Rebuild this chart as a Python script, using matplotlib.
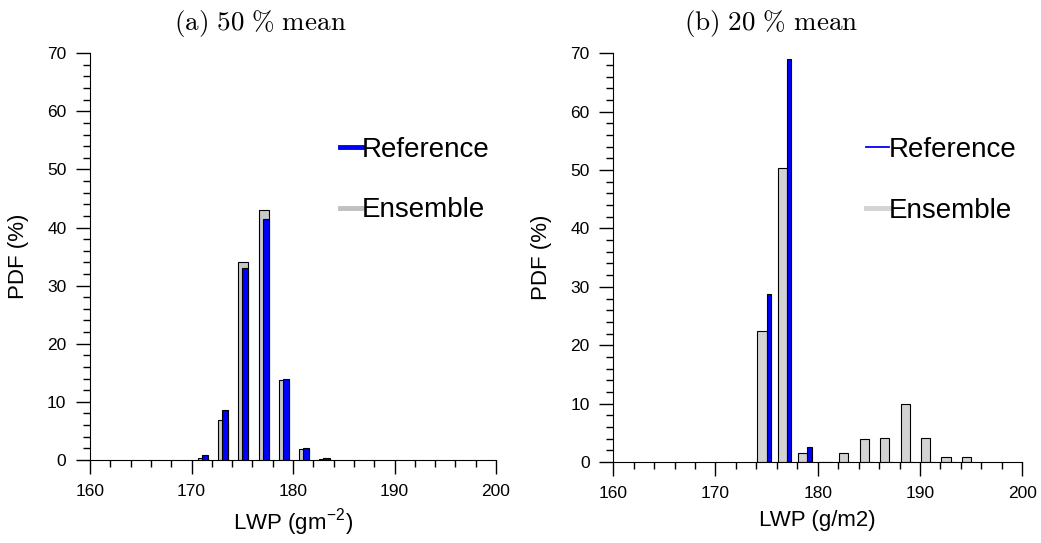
import numpy as np
import matplotlib.pyplot as plt
from matplotlib.lines import Line2D
from matplotlib.ticker import MultipleLocator

plt.rcParams['font.family'] = ['Liberation Sans', 'DejaVu Sans']
plt.rcParams['mathtext.fontset'] = 'cm'

# bin centres (g/m2) and PDF values (%)
bins_a = [171, 173, 175, 177, 179, 181, 183]
ens_a = [0.3, 6.8, 34.1, 43.1, 13.8, 1.8, 0.15]
ref_a = [0.8, 8.6, 33.1, 41.4, 14.0, 2.0, 0.25]

bins_b = [175, 177, 179, 181, 183, 185, 187, 189, 191, 193, 195]
ens_b = [22.4, 50.3, 1.5, 0.1, 1.6, 3.9, 4.2, 9.9, 4.1, 0.9, 0.85]
ref_b = [28.8, 69.0, 2.5, 0, 0, 0, 0, 0, 0, 0, 0]

titles = [r'$\mathrm{(a)\ 50\ \%\ mean}$', r'$\mathrm{(b)\ 20\ \%\ mean}$']
xlabels = [r'LWP (gm$^{\mathregular{-2}}$)', 'LWP (g/m2)']
xticks = [160, 170, 180, 190, 200]
yticks = [0, 10, 20, 30, 40, 50, 60, 70]

fig = plt.figure(figsize=(10.41, 5.43), dpi=100)
ax1 = fig.add_axes([0.0865, 0.153, 0.390, 0.749])
ax2 = fig.add_axes([0.589, 0.149, 0.393, 0.753])


def style_axes(ax, title, title_x, xlabel):
    ax.set_xlim(160, 200)
    ax.set_ylim(0, 70)
    ax.set_xticks(xticks)
    ax.set_yticks(yticks)
    ax.xaxis.set_minor_locator(MultipleLocator(2))
    ax.yaxis.set_minor_locator(MultipleLocator(2))
    ax.tick_params(which='major', direction='out', length=10, width=1, labelsize=12.5, pad=7)
    ax.tick_params(which='minor', direction='out', length=5, width=1)
    ax.spines['top'].set_visible(False)
    ax.spines['right'].set_visible(False)
    ax.set_xlabel(xlabel, fontsize=16, labelpad=7)
    ax.set_ylabel('PDF (%)', fontsize=16, labelpad=13)
    ax.set_title(title, fontsize=19.5, x=title_x, pad=17)


# panel (a): wide grey bar with blue bar over it
ax1.bar(np.array(bins_a) + 0.1, ens_a, width=1.0, color='#c8c8c8', edgecolor='black', linewidth=0.8)
ax1.bar(np.array(bins_a) + 0.3, ref_a, width=0.6, color='#0000ff', edgecolor='black', linewidth=0.8)
style_axes(ax1, titles[0], 0.42, xlabels[0])
h1 = [Line2D([], [], color='#0000ff', lw=3.5), Line2D([], [], color='#c0c0c0', lw=3.5)]
ax1.legend(h1, ['Reference', 'Ensemble'], loc='upper left', bbox_to_anchor=(0.588, 0.822),
           frameon=False, fontsize=20, handlelength=0.8, handletextpad=0.0, labelspacing=1.25,
           borderaxespad=0)

# panel (b): grey bar left of centre, thin blue bar right of centre
ax2.bar(np.array(bins_b) - 0.45, ens_b, width=0.9, color='#d3d3d3', edgecolor='black', linewidth=0.8)
ax2.bar(np.array(bins_b) + 0.2, ref_b, width=0.4, color='#0000ff', edgecolor='black', linewidth=0.8)
style_axes(ax2, titles[1], 0.385, xlabels[1])
h2 = [Line2D([], [], color='#0000ff', lw=1.3), Line2D([], [], color='#d3d3d3', lw=3.5)]
ax2.legend(h2, ['Reference', 'Ensemble'], loc='upper left', bbox_to_anchor=(0.592, 0.822),
           frameon=False, fontsize=20, handlelength=0.8, handletextpad=0.0, labelspacing=1.25,
           borderaxespad=0)

fig.savefig('out.png', dpi=100)
